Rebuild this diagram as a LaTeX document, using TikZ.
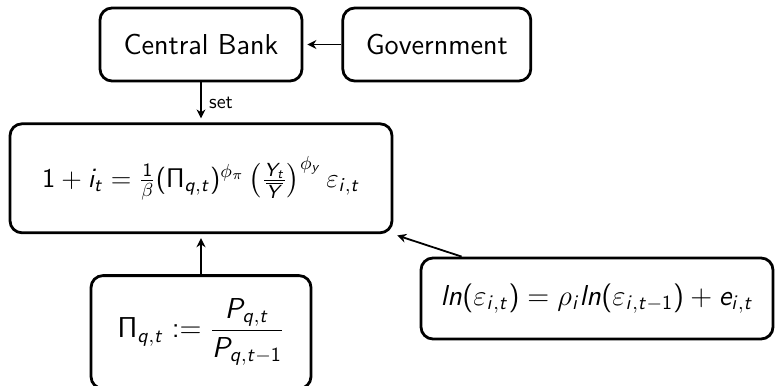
\documentclass[tikz,border=0pt,11pt]{standalone}
\usepackage{fix-cm}
\usepackage{amsmath}
\usetikzlibrary{arrows.meta,positioning}
% sans serif math letters and digits, Greek lower case left as it is
\DeclareSymbolFont{sfletters}{OT1}{cmss}{m}{sl}
\SetSymbolFont{operators}{normal}{OT1}{cmss}{m}{n}
\newcommand{\sfletter}[1]{\DeclareMathSymbol{#1}{\mathalpha}{sfletters}{`#1}}
\sfletter{e}\sfletter{i}\sfletter{l}\sfletter{n}\sfletter{q}\sfletter{t}\sfletter{y}
\sfletter{P}\sfletter{Y}
\tikzset{
    agent/.style={rectangle, draw, line width=1.4pt, rounded corners=6pt, minimum width=101pt, minimum height=36.5pt, align=center, font=\sffamily\Large},
    eqbox/.style={rectangle, draw, line width=1.4pt, rounded corners=6pt, align=center, font=\sffamily\Large},
    flow/.style={-{Stealth[length=4.5pt, width=4.5pt]}, line width=0.9pt, shorten >=2pt},
}

\begin{document}
\begin{tikzpicture}[x=0.5pt, y=-0.5pt, node distance=20pt and 19pt]
    \useasboundingbox (0,0) rectangle (775,385);
    \node[agent] (cb) at (201,44.5) {Central Bank};
    \node[agent, minimum width=94pt, right=of cb] (gov) {Government};
    \node[eqbox, minimum width=191pt, minimum height=54.5pt, font=\sffamily\fontsize{13.5}{16}\selectfont, below=of cb] (taylor)
        {$1+i_t=\frac{1}{\beta}(\Pi_{q,t})^{\phi_\pi}\left(\frac{Y_t}{\overline{Y}}\right)^{\phi_y}\varepsilon_{i,t}$};
    \node[eqbox, minimum width=110pt, minimum height=56.5pt, below=of taylor] (infl)
        {$\displaystyle\Pi_{q,t}:=\frac{P_{q,t}}{P_{q,t-1}}$};
    \node[eqbox, minimum width=176pt, minimum height=40.5pt] (shock) at (597,298.5)
        {$ln(\varepsilon_{i,t})=\rho_i ln(\varepsilon_{i,t-1})+e_{i,t}$};

    \draw[flow] (gov) -- (cb);
    \draw[flow] (cb) -- node[right, font=\sffamily\small] {set} (taylor);
    \draw[flow] (infl) -- (taylor);
    \draw[flow] ([xshift=21pt]shock.north west) -- (taylor.south east);
\end{tikzpicture}
\end{document}
